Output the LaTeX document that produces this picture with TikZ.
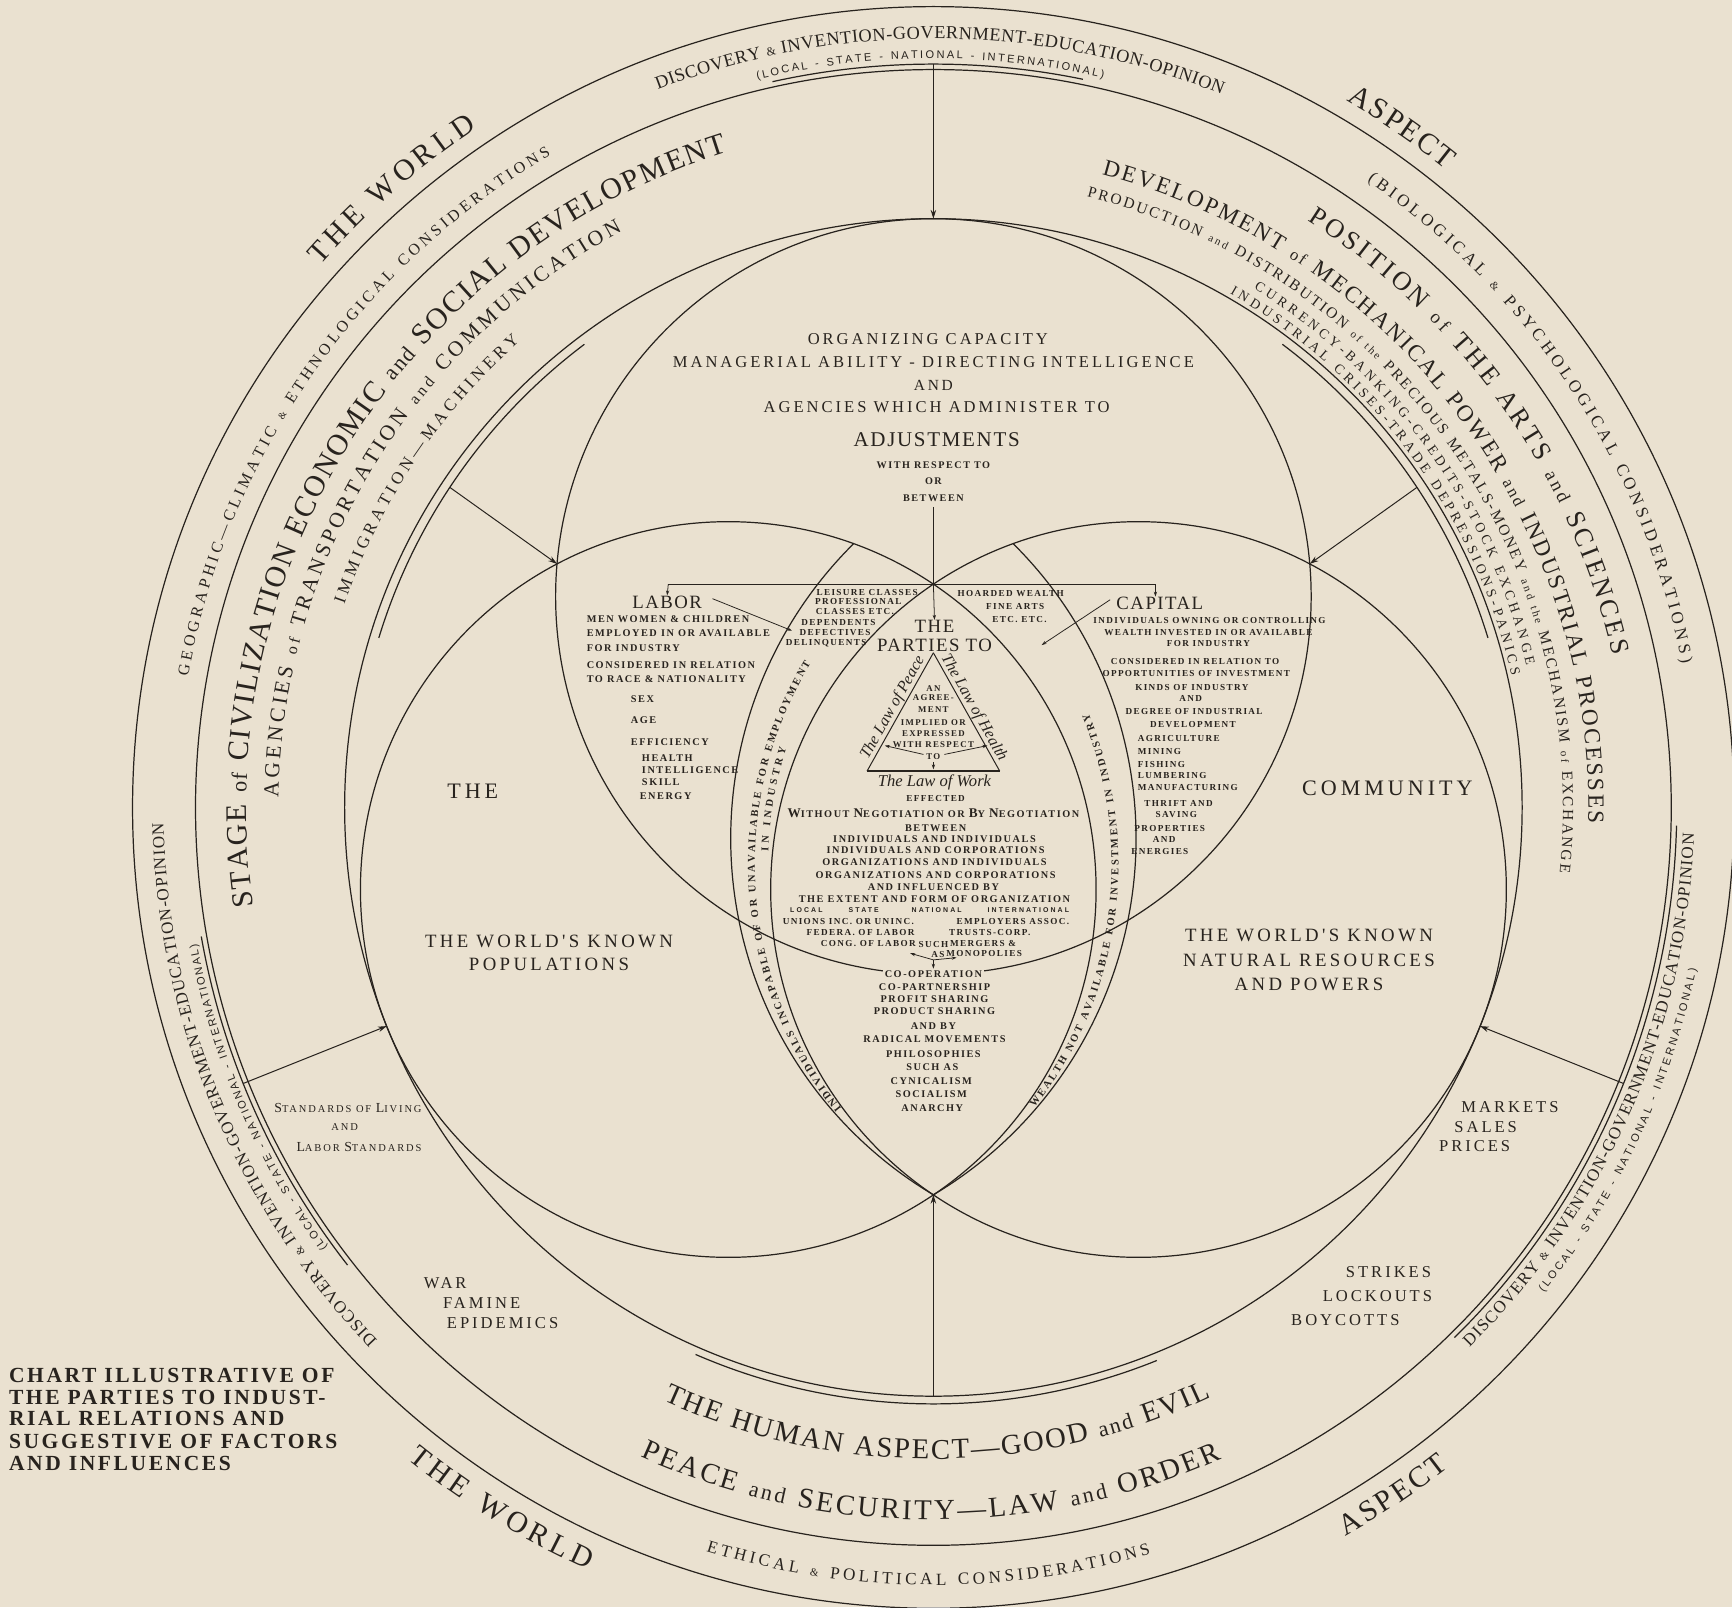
\documentclass[tikz,border=0pt]{standalone}
\usepackage{fontspec}
\setmainfont{Liberation Serif}
\newfontfamily\sansf{Liberation Sans}
\newfontfamily\sansls[LetterSpace=30]{Liberation Sans}
\newfontfamily\lsr[LetterSpace=18]{Liberation Serif}
\newfontfamily\lsm[LetterSpace=8]{Liberation Serif}
\newfontfamily\lsb[LetterSpace=15]{Liberation Serif}
\newfontfamily\lst[LetterSpace=12]{Liberation Serif}
\usetikzlibrary{decorations.text,arrows.meta,calc}
\definecolor{bg}{RGB}{234,225,208}
\definecolor{ink}{RGB}{40,35,30}
\newcommand\fsz[1]{\fontsize{#1}{#1}\selectfont}
\newcommand\arctext[5]{\path[decorate,decoration={text along path,text={#5},text align={fit to path},text color=ink}] ([shift={#1}]#3:#2) arc[start angle=#3,end angle=#4,radius=#2];}
\tikzset{
  ringline/.style={line width=1.1pt},
  arr/.style={-{Stealth[length=8pt,width=5pt]},line width=0.9pt},
  sarr/.style={-{Stealth[length=4.5pt,width=3pt]},line width=0.7pt},
  dn/.style={font=\lsb\bfseries\fsz{9.3}},
  sm/.style={font=\lsb\bfseries\fsz{8.3}},
  bigtxt/.style={font=\lsr\fsz{17}},
  midtxt/.style={font=\lsr\fsz{15}},
}
\begin{document}
\begin{tikzpicture}[x=1pt,y=1pt,color=ink,inner sep=0pt]
\useasboundingbox (0,0) rectangle (1568,1455);
\fill[bg] (0,0) rectangle (1568,1455);
\coordinate (C) at (845,724);
\coordinate (Ct) at (845,915);
\coordinate (Cl) at (659.3,649.7);
\coordinate (Cr) at (1030.7,649.7);
% rings
\draw[ringline] (C) circle[radius=725];
\draw[ringline] (C) circle[radius=668];
\draw[ringline] (C) circle[radius=533];
\draw[ringline] ([shift={(C)}]102.5:673) arc[start angle=102.5,end angle=78.4,radius=673];
\draw[ringline] ([shift={(C)}]190:673) arc[start angle=190,end angle=218,radius=673];
\draw[ringline] ([shift={(C)}]-45.5:673) arc[start angle=-45.5,end angle=-1.4,radius=673];
\draw[ringline] ([shift={(C)}]127:525) arc[start angle=127,end angle=163,radius=525];
\draw[ringline] ([shift={(C)}]17:525) arc[start angle=17,end angle=53,radius=525];
\draw[ringline] ([shift={(C)}]246.5:540) arc[start angle=246.5,end angle=292,radius=540];
% three circles
\draw[ringline] (Ct) circle[radius=342];
\draw[ringline] (Cl) circle[radius=333];
\draw[ringline] (Cr) circle[radius=333];
% band arcs
\draw[ringline] ([shift={(1037,696)}]134.7:375.5) arc[start angle=134.7,end angle=239.25,radius=375.5];
\draw[ringline] ([shift={(653,696)}]45.3:375.5) arc[start angle=45.3,end angle=-59.25,radius=375.5];

% big arrows
\coordinate (aTs) at ([shift={(C)}]90:673);
\coordinate (aTe) at ([shift={(C)}]90:533);
\coordinate (aLs) at ([shift={(C)}]201.8:673);
\coordinate (aLe) at ([shift={(C)}]201.8:533);
\coordinate (aRs) at ([shift={(C)}]-21.8:673);
\coordinate (aRe) at ([shift={(C)}]-21.8:533);
\coordinate (uLs) at ([shift={(C)}]146.5:525);
\coordinate (uLe) at (504.3,944.5);
\coordinate (uRs) at ([shift={(C)}]33.5:525);
\coordinate (uRe) at (1185.7,944.5);
\coordinate (bS) at ([shift={(C)}]270:533);
\coordinate (bE) at (845,373.3);
\draw[arr] (aTs) -- (aTe);
\draw[arr] (aLs) -- (aLe);
\draw[arr] (aRs) -- (aRe);
\draw[arr] (uLs) -- (uLe);
\draw[arr] (uRs) -- (uRe);
\draw[arr] (bS) -- (bE);

% ring texts R1-R2
\arctext{(C)}{696}{111}{68}{|\fsz{16.5}|DISCOVERY |\fsz{11}|{\&}|\fsz{16.5}| INVENTION-GOVERNMENT-EDUCATION-OPINION}
\arctext{(C)}{678}{103.6}{76.9}{|\sansf\fsz{10}|(LOCAL - STATE - NATIONAL - INTERNATIONAL)}
\arctext{(C)}{697}{223.8}{181.2}{|\fsz{15.5}|DISCOVERY |\fsz{10}|{\&}|\fsz{15.5}| INVENTION-GOVERNMENT-EDUCATION-OPINION}
\arctext{(C)}{678}{216}{190.5}{|\sansf\fsz{10}|(LOCAL - STATE - NATIONAL - INTERNATIONAL)}
\arctext{(C)}{689}{-45.2}{-2}{|\fsz{15.5}|DISCOVERY |\fsz{10}|{\&}|\fsz{15.5}| INVENTION-GOVERNMENT-EDUCATION-OPINION}
\arctext{(C)}{706}{-38.5}{-12}{|\sansf\fsz{10}|(LOCAL - STATE - NATIONAL - INTERNATIONAL)}
\arctext{(C)}{685}{170}{120.4}{|\fsz{14.5}|GEOGRAPHIC—CLIMATIC |\fsz{9}|{\&}|\fsz{14.5}| ETHNOLOGICAL CONSIDERATIONS}
\arctext{(C)}{690}{55.3}{10.9}{|\fsz{15.5}|(BIOLOGICAL |\fsz{10}|{\&}|\fsz{15.5}| PSYCHOLOGICAL CONSIDERATIONS)}
\arctext{(C)}{704}{253}{286.2}{|\fsz{15.5}|ETHICAL |\fsz{10}|{\&}|\fsz{15.5}| POLITICAL CONSIDERATIONS}
% outside R1
\arctext{(C)}{741}{138.5}{123.9}{|\fsz{27}|THE WORLD}
\arctext{(C)}{741}{59.7}{51.2}{|\fsz{27}|ASPECT}
\arctext{(C)}{758}{231.1}{245.6}{|\fsz{27}|THE WORLD}
\arctext{(C)}{758}{-60.5}{-52}{|\fsz{27}|ASPECT}
% R2-R3
\arctext{(C)}{622}{188.3}{107.5}{|\fsz{27}|STAGE |\fsz{20}|of|\fsz{27}| CIVILIZATION ECONOMIC |\fsz{20}|and|\fsz{27}| SOCIAL DEVELOPMENT}
\arctext{(C)}{593}{179.1}{118.4}{|\fsz{19.5}|AGENCIES |\fsz{14.5}|of|\fsz{19.5}| TRANSPORTATION |\fsz{14.5}|and|\fsz{19.5}| COMMUNICATION}
\arctext{(C)}{564}{161}{131.6}{|\fsz{15.5}|IMMIGRATION—MACHINERY}
\arctext{(C)}{630}{57.5}{12.6}{|\fsz{24}|POSITION |\fsz{17}|of|\fsz{24}| THE ARTS |\fsz{17}|and|\fsz{24}| SCIENCES}
\arctext{(C)}{593}{75.1}{-1.3}{|\fsz{21}|DEVELOPMENT |\fsz{15}|of|\fsz{21}| MECHANICAL POWER |\fsz{15}|and|\fsz{21}| INDUSTRIAL PROCESSES}
\arctext{(C)}{570}{75.9}{-5.8}{|\fsz{14}|PRODUCTION |\fsz{10}|and|\fsz{14}| DISTRIBUTION |\fsz{10}|of the|\fsz{14}| PRECIOUS METALS-MONEY |\fsz{10}|and the|\fsz{14}| MECHANISM |\fsz{10}|of|\fsz{14}| EXCHANGE}
\arctext{(C)}{552}{58.3}{13.5}{|\fsz{12.5}|CURRENCY-BANKING-CREDITS-STOCK EXCHANGE}
\arctext{(C)}{537}{60}{12.9}{|\fsz{12.5}|INDUSTRIAL CRISES-TRADE DEPRESSIONS-PANICS}
\arctext{(C)}{590}{245.5}{295.2}{|\fsz{26}|THE HUMAN ASPECT—GOOD |\fsz{20}|and|\fsz{26}| EVIL}
\arctext{(C)}{645}{245.7}{293.9}{|\fsz{26}|PEACE |\fsz{20}|and|\fsz{26}| SECURITY—LAW |\fsz{20}|and|\fsz{26}| ORDER}
% band texts
\arctext{(1035.4,672.6)}{352}{219}{149}{|\bfseries\fsz{9.5}|INDIVIDUALS INCAPABLE OF OR UNAVAILABLE FOR EMPLOYMENT}
\arctext{(1035.4,672.6)}{340}{178}{162}{|\bfseries\fsz{9.5}|IN INDUSTRY}
\arctext{(654.6,672.6)}{358}{-38}{22.4}{|\bfseries\fsz{9.5}|WEALTH NOT AVAILABLE FOR INVESTMENT IN INDUSTRY}

% top circle text
\node[midtxt] (org1) at (840,1148) {ORGANIZING CAPACITY};
\node[midtxt] (org2) at (845,1127) {MANAGERIAL ABILITY - DIRECTING INTELLIGENCE};
\node[font=\lsr\fsz{14}] (org3) at (845,1106) {AND};
\node[midtxt] (org4) at (848,1086) {AGENCIES WHICH ADMINISTER TO};
\node[font=\lsm\fsz{19}] (org5) at (848,1057) {ADJUSTMENTS};
\node[font=\lsb\bfseries\fsz{9.2}] (org6) at (845,1034) {WITH RESPECT TO};
\node[font=\lsb\bfseries\fsz{9.2}] (org7) at (845,1019) {OR};
\node[font=\lsb\bfseries\fsz{9.2}] (org8) at (845,1004) {BETWEEN};
\coordinate (vtop) at (845,996);
\coordinate (J) at (845,926.1);
\coordinate (hl) at (605,926.1);
\coordinate (hr) at (1046,926.1);
\draw[line width=0.9pt] (vtop) -- (J);
\draw[line width=0.9pt] (hl) -- (hr);

% labor
\node[font=\lsm\fsz{17}] (labor) at (604,910) {LABOR};
\draw[sarr] (hl) -- (labor.north);
\node[dn,anchor=west] (lb1) at (531,894) {MEN WOMEN \& CHILDREN};
\node[dn,anchor=west] (lb2) at (531,882) {EMPLOYED IN OR AVAILABLE};
\node[dn,anchor=west] (lb3) at (531,868) {FOR INDUSTRY};
\node[dn,anchor=west] (lb4) at (531,853) {CONSIDERED IN RELATION};
\node[dn,anchor=west] (lb5) at (531,840) {TO RACE \& NATIONALITY};
\node[dn,anchor=west] (lb6) at (571,822) {SEX};
\node[dn,anchor=west] (lb7) at (571,803) {AGE};
\node[dn,anchor=west] (lb8) at (571,783) {EFFICIENCY};
\node[dn,anchor=west] (lb9) at (581,769) {HEALTH};
\node[dn,anchor=west] (lb10) at (581,758) {INTELLIGENCE};
\node[dn,anchor=west] (lb11) at (581,747) {SKILL};
\node[dn,anchor=west] (lb12) at (579,734) {ENERGY};

% leisure box
\node[sm] (le1) at (785,919) {LEISURE CLASSES};
\node[sm] (le2) at (777,910) {PROFESSIONAL};
\node[sm] (le3) at (774,901) {CLASSES ETC.};
\node[sm] (le4) at (759,891) {DEPENDENTS};
\node[sm] (le5) at (756,882) {DEFECTIVES};
\node[sm] (le6) at (748,873) {DELINQUENTS};
\coordinate (lbA) at (645,913);
\coordinate (lbB) at (717,884);
\draw[sarr] (lbA) -- (lbB);
% hoarded
\node[sm] (ho1) at (915,918) {HOARDED WEALTH};
\node[sm] (ho2) at (919,906) {FINE ARTS};
\node[sm] (ho3) at (923,894) {ETC. ETC.};
\coordinate (cpA) at (1005,912);
\coordinate (cpB) at (943,871);
\draw[sarr] (cpA) -- (cpB);

% parties
\node[font=\lsm\fsz{17}] (the) at (846,888) {THE};
\node[font=\lsm\fsz{17}] (parties) at (846,871) {PARTIES TO};
\draw[sarr] (J) -- (the.north);

% triangle
\coordinate (tA) at (845,864);
\coordinate (tL) at (785,757);
\coordinate (tR) at (905,757);
\draw[line width=0.9pt] (tA) -- (tL);
\draw[line width=0.9pt] (tA) -- (tR);
\draw[line width=2pt] (tL) -- (tR);
\node[font=\lsb\bfseries\fsz{8}] (tr1) at (845,832) {AN};
\node[font=\lsb\bfseries\fsz{8}] (tr2) at (845,823) {AGREE-};
\node[font=\lsb\bfseries\fsz{8}] (tr3) at (845,813) {MENT};
\node[font=\lsb\bfseries\fsz{8}] (tr4) at (845,801) {IMPLIED OR};
\node[font=\lsb\bfseries\fsz{8}] (tr5) at (845,791) {EXPRESSED};
\node[font=\lsb\bfseries\fsz{8}] (tr6) at (845,781) {WITH RESPECT};
\node[font=\lsb\bfseries\fsz{8}] (tr7) at (845,770) {TO};
\coordinate (ta1) at (836,772);
\coordinate (ta2) at (801,780);
\coordinate (ta3) at (855,772);
\coordinate (ta4) at (894,780);
\coordinate (ta5) at (845,765);
\coordinate (ta6) at (845,758.5);
\draw[sarr] (ta1) -- (ta2);
\draw[sarr] (ta3) -- (ta4);
\draw[sarr] (ta5) -- (ta6);
\node[rotate=60.72,anchor=base,font=\itshape\fsz{14.5}] (lpeace) at (811.5,812.5) {The Law of Peace};
\node[rotate=-60.72,anchor=base,font=\itshape\fsz{14.5}] (lhealth) at (878.5,812.5) {The Law of Health};
\node[font=\itshape\fsz{15}] (lwork) at (846,747) {The Law of Work};

% lens body
\node[sm] (ln1) at (847,732) {EFFECTED};
\node[font=\lsb\bfseries\fsz{9.3}] (ln2) at (845,719) {{\fsz{12}W}ITHOUT {\fsz{12}N}EGOTIATION OR {\fsz{12}B}Y {\fsz{12}N}EGOTIATION};
\node[dn] (ln3) at (847,705) {BETWEEN};
\node[dn] (ln4) at (846,695) {INDIVIDUALS AND INDIVIDUALS};
\node[dn] (ln5) at (847,685) {INDIVIDUALS AND CORPORATIONS};
\node[dn] (ln6) at (846,674) {ORGANIZATIONS AND INDIVIDUALS};
\node[dn] (ln7) at (847,663) {ORGANIZATIONS AND CORPORATIONS};
\node[dn] (ln8) at (845,652) {AND INFLUENCED BY};
\node[dn] (ln9) at (846,641) {THE EXTENT AND FORM OF ORGANIZATION};
\node[font=\sansls\bfseries\fsz{6.3}] (lv1) at (730,631) {LOCAL};
\node[font=\sansls\bfseries\fsz{6.3}] (lv2) at (782,631) {STATE};
\node[font=\sansls\bfseries\fsz{6.3}] (lv3) at (848,631) {NATIONAL};
\node[font=\sansls\bfseries\fsz{6.3}] (lv4) at (931,631) {INTERNATIONAL};
\node[sm] (u1) at (768,621) {UNIONS INC. OR UNINC.};
\node[sm] (u2) at (917,621) {EMPLOYERS ASSOC.};
\node[sm] (u3) at (779,611) {FEDERA. OF LABOR};
\node[sm] (u4) at (896,611) {TRUSTS-CORP.};
\node[sm] (u5) at (786,601) {CONG. OF LABOR};
\node[sm] (u6) at (845,600) {SUCH};
\node[sm] (u7) at (890,601) {MERGERS \&};
\node[sm] (u8) at (849,591) {AS};
\node[sm] (u9) at (891,592) {MONOPOLIES};
\coordinate (sa) at (845,586);
\coordinate (saL) at (824,592);
\coordinate (saR) at (866,588);
\coordinate (saD) at (845,578);
\draw[sarr] (sa) -- (saL);
\draw[sarr] (sa) -- (saR);
\draw[sarr] (sa) -- (saD);
\node[dn,fill=bg,inner xsep=2pt,inner ysep=1pt] (co1) at (845,573) {CO-OPERATION};
\node[dn] (co2) at (846,561) {CO-PARTNERSHIP};
\node[dn] (co3) at (846,550) {PROFIT SHARING};
\node[dn] (co4) at (846,540) {PRODUCT SHARING};
\node[dn] (co5) at (845,526) {AND BY};
\node[dn] (co6) at (846,514) {RADICAL MOVEMENTS};
\node[dn] (co7) at (845,501) {PHILOSOPHIES};
\node[dn] (co8) at (844,489) {SUCH AS};
\node[dn] (co9) at (843,476) {CYNICALISM};
\node[dn] (co10) at (843,464) {SOCIALISM};
\node[dn] (co11) at (844,452) {ANARCHY};

% capital
\node[font=\lsm\fsz{17}] (capital) at (1050,909) {CAPITAL};
\draw[sarr] (hr) -- (capital.north -| hr);
\node[sm] (c1) at (1095,893) {INDIVIDUALS OWNING OR CONTROLLING};
\node[sm] (c2) at (1094,882) {WEALTH INVESTED IN OR AVAILABLE};
\node[sm] (c3) at (1094,872) {FOR INDUSTRY};
\node[sm] (c4) at (1082,856) {CONSIDERED IN RELATION TO};
\node[sm] (c5) at (1083,845) {OPPORTUNITIES OF INVESTMENT};
\node[sm] (c6) at (1079,833) {KINDS OF INDUSTRY};
\node[sm] (c7) at (1078,823) {AND};
\node[sm] (c8) at (1081,811) {DEGREE OF INDUSTRIAL};
\node[sm] (c9) at (1080,799) {DEVELOPMENT};
\node[sm,anchor=west] (c10) at (1030,786) {AGRICULTURE};
\node[sm,anchor=west] (c11) at (1030,775) {MINING};
\node[sm,anchor=west] (c12) at (1030,763) {FISHING};
\node[sm,anchor=west] (c13) at (1030,753) {LUMBERING};
\node[sm,anchor=west] (c14) at (1030,742) {MANUFACTURING};
\node[sm] (c15) at (1067,728) {THRIFT AND};
\node[sm] (c16) at (1065,718) {SAVING};
\node[sm] (c17) at (1059,705) {PROPERTIES};
\node[sm] (c18) at (1054,695) {AND};
\node[sm] (c19) at (1050,684) {ENERGIES};

% circle labels
\node[font=\lsr\fsz{20}] (thel) at (428,739) {THE};
\node[font=\lsr\fsz{20}] (comm) at (1256,741) {COMMUNITY};
\node[bigtxt] (pop1) at (497,603) {THE WORLD'S KNOWN};
\node[bigtxt] (pop2) at (497,582) {POPULATIONS};
\node[bigtxt] (nat1) at (1185,608) {THE WORLD'S KNOWN};
\node[bigtxt] (nat2) at (1185,586) {NATURAL RESOURCES};
\node[bigtxt] (nat3) at (1185,564) {AND POWERS};

% outer band labels
\node[font=\lsr\fsz{9.5}] (st1) at (315,452) {{\fsz{12.5}S}TANDARDS OF {\fsz{12.5}L}IVING};
\node[font=\lsr\fsz{9.5}] (st2) at (312,435) {AND};
\node[font=\lsr\fsz{9.5}] (st3) at (325,417) {{\fsz{12.5}L}ABOR {\fsz{12.5}S}TANDARDS};
\node[font=\lsr\fsz{15}] (w1) at (403,293) {WAR};
\node[font=\lsr\fsz{15}] (w2) at (436,275) {FAMINE};
\node[font=\lsr\fsz{15}] (w3) at (455,257) {EPIDEMICS};
\node[font=\lsr\fsz{15}] (m1) at (1367,453) {MARKETS};
\node[font=\lsr\fsz{15}] (m2) at (1345,435) {SALES};
\node[font=\lsr\fsz{15}] (m3) at (1335,417) {PRICES};
\node[font=\lsr\fsz{15}] (s1) at (1257,303) {STRIKES};
\node[font=\lsr\fsz{15}] (s2) at (1247,282) {LOCKOUTS};
\node[font=\lsr\fsz{15}] (s3) at (1218,260) {BOYCOTTS};

% title
\node[anchor=west,font=\lst\bfseries\fsz{19.5}] (ti1) at (8,210) {CHART ILLUSTRATIVE OF};
\node[anchor=west,font=\lst\bfseries\fsz{19.5}] (ti2) at (8,190) {THE PARTIES TO INDUST-};
\node[anchor=west,font=\lst\bfseries\fsz{19.5}] (ti3) at (8,171) {RIAL RELATIONS AND};
\node[anchor=west,font=\lst\bfseries\fsz{19.5}] (ti4) at (8,150) {SUGGESTIVE OF FACTORS};
\node[anchor=west,font=\lst\bfseries\fsz{19.5}] (ti5) at (8,130) {AND INFLUENCES};
\end{tikzpicture}
\end{document}
